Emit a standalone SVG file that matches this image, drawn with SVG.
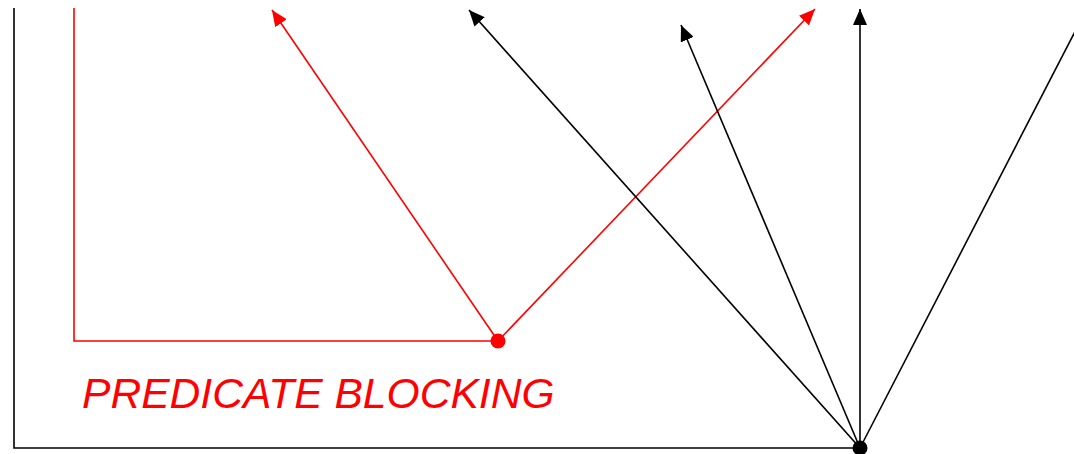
<svg xmlns="http://www.w3.org/2000/svg" width="1074" height="454" viewBox="0 0 1074 454">
<style>
.k{stroke:#000;stroke-width:1.6;fill:none}
.r{stroke:#f00;stroke-width:1.6;fill:none}
.t{font-family:"Liberation Sans",Arial,sans-serif;font-style:italic;font-size:42.6px;fill:#f00}
</style>
<defs>
<marker id="ak" refX="16" refY="7" markerWidth="17" markerHeight="14" markerUnits="userSpaceOnUse" orient="auto"><path d="M0,0L16,7L0,14Z" fill="#000"/></marker>
<marker id="ar" refX="16" refY="7" markerWidth="17" markerHeight="14" markerUnits="userSpaceOnUse" orient="auto"><path d="M0,0L16,7L0,14Z" fill="#f00"/></marker>
</defs>
<g id="connectors">
<path class="k" d="M14,8V448H860"/>
<path class="r" d="M74,8V341H498"/>
<line class="r" x1="498" y1="341" x2="272" y2="10" marker-end="url(#ar)"/>
<line class="r" x1="498" y1="341" x2="815" y2="9" marker-end="url(#ar)"/>
<line class="k" x1="860" y1="448" x2="469" y2="10" marker-end="url(#ak)"/>
<line class="k" x1="860" y1="448" x2="681" y2="25" marker-end="url(#ak)"/>
<line class="k" x1="860" y1="448" x2="860" y2="9" marker-end="url(#ak)"/>
<line class="k" x1="860" y1="448" x2="1082" y2="18"/>
</g>
<g id="red-node"><circle cx="498" cy="341" r="7.5" fill="#f00"/></g>
<g id="black-node"><circle cx="860" cy="448" r="7.5" fill="#000"/></g>
<g id="label"><text class="t" x="82" y="408">PREDICATE BLOCKING</text></g>
</svg>
